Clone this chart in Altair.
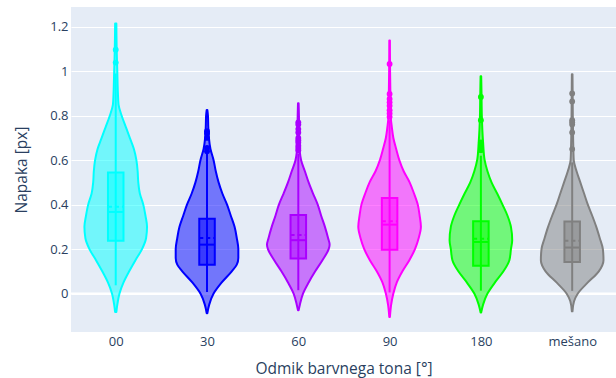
import json
import altair as alt
import pandas as pd

# ---------------- data ----------------
categories = ["00", "30", "60", "90", "180", "mešano"]
colors = ["#00ffff", "#0000ff", "#aa00ff", "#ff00ff", "#00ff00", "#808080"]

# violin outlines: y values and relative density (1 = widest)
cyan_y = [1.215, 1.1, 1.0, 0.9, 0.85, 0.8, 0.75, 0.7, 0.65, 0.6, 0.55, 0.5, 0.45, 0.4, 0.35, 0.3, 0.25, 0.2, 0.15, 0.1, 0.05, 0.0, -0.05, -0.083]
cyan_d = [0.02, 0.03, 0.05, 0.07, 0.09, 0.19, 0.32, 0.45, 0.58, 0.66, 0.70, 0.72, 0.77, 0.88, 0.95, 1.0, 0.97, 0.84, 0.63, 0.43, 0.25, 0.12, 0.05, 0.02]

blue_y = [0.826, 0.8, 0.75, 0.7, 0.65, 0.6, 0.55, 0.5, 0.45, 0.4, 0.35, 0.3, 0.25, 0.2, 0.16, 0.13, 0.1, 0.05, 0.0, -0.05, -0.089]
blue_d = [0.01, 0.03, 0.04, 0.06, 0.11, 0.21, 0.28, 0.37, 0.49, 0.64, 0.76, 0.88, 0.95, 1.0, 1.0, 0.95, 0.79, 0.47, 0.21, 0.07, 0.01]

purple_y = [0.856, 0.8, 0.7, 0.635, 0.6, 0.55, 0.5, 0.45, 0.4, 0.35, 0.3, 0.25, 0.22, 0.2, 0.15, 0.1, 0.05, 0.0, -0.05, -0.075]
purple_d = [0.01, 0.02, 0.03, 0.05, 0.09, 0.21, 0.33, 0.47, 0.62, 0.73, 0.85, 0.95, 1.0, 0.97, 0.77, 0.54, 0.33, 0.15, 0.05, 0.01]

magenta_y = [1.138, 1.0, 0.9, 0.79, 0.75, 0.7, 0.65, 0.6, 0.55, 0.5, 0.45, 0.4, 0.35, 0.3, 0.25, 0.2, 0.15, 0.1, 0.05, 0.0, -0.05, -0.105]
magenta_d = [0.01, 0.015, 0.025, 0.04, 0.07, 0.12, 0.21, 0.31, 0.45, 0.64, 0.78, 0.90, 0.96, 1.0, 0.93, 0.81, 0.63, 0.41, 0.23, 0.12, 0.05, 0.01]

green_y = [0.977, 0.9, 0.8, 0.68, 0.6, 0.55, 0.5, 0.45, 0.4, 0.35, 0.3, 0.24, 0.2, 0.15, 0.1, 0.05, 0.0, -0.05, -0.085]
green_d = [0.01, 0.02, 0.03, 0.07, 0.12, 0.21, 0.34, 0.52, 0.69, 0.85, 0.96, 1.0, 0.96, 0.91, 0.72, 0.45, 0.21, 0.07, 0.01]

grey_y = [0.987, 0.9, 0.8, 0.7, 0.6, 0.55, 0.5, 0.45, 0.4, 0.35, 0.3, 0.25, 0.2, 0.15, 0.1, 0.05, 0.0, -0.035, -0.08]
grey_d = [0.01, 0.015, 0.02, 0.03, 0.05, 0.14, 0.26, 0.38, 0.50, 0.64, 0.77, 0.88, 0.98, 1.0, 0.85, 0.50, 0.18, 0.06, 0.01]

profiles_y = [cyan_y, blue_y, purple_y, magenta_y, green_y, grey_y]
profiles_d = [cyan_d, blue_d, purple_d, magenta_d, green_d, grey_d]

# box statistics
q1 = [0.237, 0.130, 0.158, 0.197, 0.125, 0.142]
median = [0.367, 0.220, 0.240, 0.310, 0.232, 0.207]
q3 = [0.544, 0.336, 0.353, 0.430, 0.325, 0.324]
mean = [0.390, 0.250, 0.263, 0.325, 0.247, 0.237]
whisker_lo = [0.037, 0.007, 0.015, 0.005, 0.013, 0.012]
whisker_hi = [0.99, 0.63, 0.63, 0.78, 0.62, 0.59]

# outlying points
outliers = [
    [1.097, 1.039],
    [0.73, 0.72, 0.70, 0.655, 0.64],
    [0.77, 0.76, 0.74, 0.725, 0.70, 0.69, 0.68, 0.665, 0.655, 0.645],
    [1.033, 0.898, 0.875, 0.86, 0.845, 0.825, 0.81, 0.795],
    [0.884, 0.78, 0.68, 0.665, 0.655, 0.645],
    [0.90, 0.864, 0.78, 0.77, 0.76, 0.725, 0.65],
]

y_ticks = [0, 0.2, 0.4, 0.6, 0.8, 1.0, 1.2]

# ---------------- tables ----------------
vrows = []
for i, c in enumerate(categories):
    for yv, dv in zip(profiles_y[i], profiles_d[i]):
        vrows.append({"cat": c, "idx": i, "y": yv, "d": dv})
vdf = pd.DataFrame(vrows)

bdf = pd.DataFrame({
    "cat": categories, "idx": list(range(len(categories))),
    "q1": q1, "median": median, "q3": q3, "mean": mean,
    "wlo": whisker_lo, "whi": whisker_hi,
})

prows = []
for i, c in enumerate(categories):
    for v in outliers[i]:
        prows.append({"cat": c, "idx": i, "v": v})
pdf = pd.DataFrame(prows)

# ---------------- styles ----------------
VHALF = 0.343     # half-width of widest violin (category units)
BOXHALF = 0.085   # half-width of box
FONT = "Open Sans"
TXT = "#2a3f5f"
W, H = 545, 325

xscale = alt.Scale(domain=[-0.49, 5.48], nice=False, zero=False)
yscale = alt.Scale(domain=[-0.173, 1.289], nice=False, zero=False)

label_expr = json.dumps(categories, ensure_ascii=False) + "[datum.value]"

xaxis = alt.Axis(
    values=list(range(len(categories))), labelExpr=label_expr, grid=False,
    domain=False, ticks=False, labelPadding=3, labelFont=FONT, labelFontSize=13,
    labelColor=TXT, title="Odmik barvnega tona [°]", titleFont=FONT,
    titleFontSize=15.5, titleColor=TXT, titleFontWeight="normal",
    titleX=W / 2, titleY=36, titleBaseline="middle", titleAlign="center",
)
yaxis = alt.Axis(
    values=y_ticks, format=".1~f", grid=True, gridColor="white", gridWidth=1,
    domain=False, ticks=False, labelPadding=3, labelFont=FONT, labelFontSize=13,
    labelColor=TXT, title="Napaka [px]", titleFont=FONT, titleFontSize=15.5,
    titleColor=TXT, titleFontWeight="normal", titleX=-50, titleY=H / 2,
    titleAngle=270, titleBaseline="middle", titleAlign="center",
)


def xe(field):
    return alt.X(field, type="quantitative", scale=xscale, axis=xaxis)


def ye(field):
    return alt.Y(field, type="quantitative", scale=yscale, axis=yaxis)


cscale = alt.Scale(domain=categories, range=colors)
fill = alt.Fill("cat:N", scale=cscale, legend=None)
stroke = alt.Stroke("cat:N", scale=cscale, legend=None)

zero = alt.Chart(pd.DataFrame({"z": [0]})).mark_rule(
    color="white", strokeWidth=2
).encode(y=ye("z"))

violin = alt.Chart(vdf).transform_calculate(
    lo=f"datum.idx - {VHALF} * datum.d", hi=f"datum.idx + {VHALF} * datum.d"
).mark_area(
    orient="horizontal", interpolate="monotone", fillOpacity=0.5,
    strokeWidth=2, strokeJoin="round"
).encode(y=ye("y"), x=xe("lo"), x2="hi:Q", fill=fill, stroke=stroke,
         detail="cat:N")

whisk = alt.Chart(bdf).mark_rule(strokeWidth=2).encode(
    x=xe("idx"), y=ye("wlo"), y2="whi:Q", stroke=stroke)

boxbase = alt.Chart(bdf).transform_calculate(
    bl=f"datum.idx - {BOXHALF}", br=f"datum.idx + {BOXHALF}")

box = boxbase.mark_rect(fillOpacity=0.5, strokeWidth=2).encode(
    x=xe("bl"), x2="br:Q", y=ye("q1"), y2="q3:Q", fill=fill, stroke=stroke)

med = boxbase.mark_rule(strokeWidth=2).encode(
    x=xe("bl"), x2="br:Q", y=ye("median"), stroke=stroke)

mn = boxbase.mark_rule(strokeWidth=2, strokeDash=[4, 3]).encode(
    x=xe("bl"), x2="br:Q", y=ye("mean"), stroke=stroke)

pts = alt.Chart(pdf).mark_circle(size=34, opacity=1).encode(
    x=xe("idx"), y=ye("v"), fill=fill)

chart = alt.layer(zero, violin, whisk, box, med, mn, pts).properties(
    width=W, height=H,
    padding={"left": 71, "top": 7, "right": 0, "bottom": 46},
    autosize=alt.AutoSizeParams(type="none"),
    background="white",
).configure_view(fill="#E5ECF6", stroke=None)

chart.save("out.html", embed_options={"renderer": "svg", "actions": False})
